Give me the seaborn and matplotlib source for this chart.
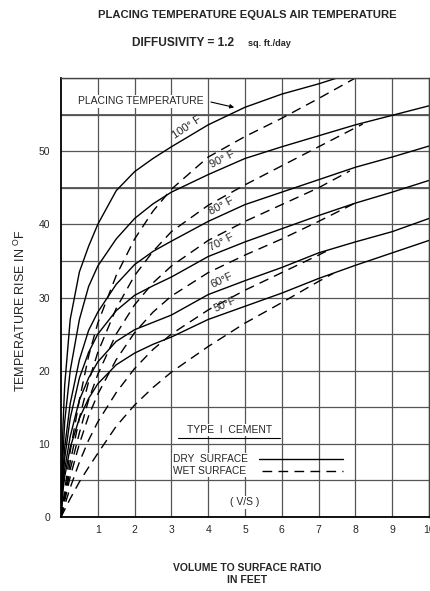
import matplotlib
matplotlib.use("agg")
import matplotlib.pyplot as plt
import seaborn as sns
import pandas

# readings: x = V/S in feet, y = temperature rise in deg F
dry_x = [0, 0.05, 0.1, 0.25, 0.5, 0.75, 1, 1.5, 2, 2.5, 3, 4, 5, 6, 7, 8, 9, 10]
dry_100_x = [0, 0.05, 0.1, 0.25, 0.5, 0.75, 1, 1.5, 2, 2.5, 3, 4, 5, 6, 7, 7.5]
dry_100 = [0, 12, 18, 27, 33.5, 37, 40, 44.6, 47.2, 49.0, 50.6, 53.6, 56.0, 57.8, 59.2, 60]
dry_90 = [0, 8, 13, 20, 27, 31.5, 34.3, 38, 40.8, 42.8, 44.4, 46.8, 49, 50.6, 52.1, 53.6, 54.9, 56.2]
dry_80 = [0, 6, 9.5, 15.5, 21.5, 25.5, 28, 31.8, 34.5, 36.3, 37.7, 40.4, 42.7, 44.4, 46.1, 47.8, 49.2, 50.7]
dry_70 = [0, 5, 8, 13.5, 19, 22.5, 25, 28.2, 30.3, 31.6, 32.8, 35.6, 37.6, 39.4, 41.2, 42.9, 44.4, 46.0]
dry_60 = [0, 4, 6.5, 11, 16, 19, 21.2, 24, 25.6, 26.6, 27.6, 30.4, 32.3, 34.1, 36.1, 37.6, 39.0, 40.8]
dry_50 = [0, 3.5, 5.5, 9.5, 13.5, 16.2, 18.2, 20.8, 22.4, 23.6, 24.6, 27, 28.8, 30.6, 32.6, 34.4, 36.1, 37.8]

wet_100_x = [0, 0.25, 0.5, 0.75, 1, 1.5, 2, 2.5, 3, 4, 5, 6, 7, 8]
wet_100 = [0, 9, 16, 22, 26.5, 33, 38, 41.8, 44.8, 49.2, 52, 54.5, 57.2, 60]
wet_90_x = [0, 0.25, 0.5, 0.75, 1, 1.5, 2, 2.5, 3, 4, 5, 6, 7, 8, 8.2]
wet_90 = [0, 7.5, 13.5, 18.5, 22.5, 28.5, 33, 36.3, 39, 42.6, 45.4, 48, 50.6, 53.2, 53.7]
wet_80_x = [0, 0.25, 0.5, 0.75, 1, 1.5, 2, 2.5, 3, 4, 5, 6, 7, 7.85]
wet_80 = [0, 6.5, 11.5, 16, 19.5, 25, 29, 32, 34.3, 37.8, 40.4, 42.7, 45, 47.3]
wet_70_x = [0, 0.25, 0.5, 0.75, 1, 1.5, 2, 2.5, 3, 4, 5, 6, 7, 7.95]
wet_70 = [0, 5.5, 10, 13.8, 16.8, 21.5, 25.2, 28, 30.2, 33.4, 35.8, 38, 40.4, 42.8]
wet_60_x = [0, 0.25, 0.5, 0.75, 1, 1.5, 2, 2.5, 3, 4, 5, 6, 7, 7.2]
wet_60 = [0, 4, 7.5, 10.5, 13, 17, 20.3, 22.9, 25, 28.3, 31, 33.4, 35.8, 36.3]
wet_50_x = [0, 0.25, 0.5, 0.75, 1, 1.5, 2, 2.5, 3, 4, 5, 6, 7, 7.4]
wet_50 = [0, 2.5, 4.8, 6.8, 8.7, 12.4, 15.3, 17.7, 19.8, 23.3, 26.5, 29.3, 32.2, 33.3]

temps = ["100", "90", "80", "70", "60", "50"]
curve_labels = ["100° F", "90° F", "80° F", "70° F", "60°F", "50°F"]
label_x = [3.42, 4.38, 4.35, 4.35, 4.38, 4.46]
label_y = [53.2, 48.9, 42.5, 37.6, 32.4, 29.1]
label_rot = [34, 27, 28, 27, 25, 24]

dry = {"100": (dry_100_x, dry_100), "90": (dry_x, dry_90), "80": (dry_x, dry_80),
       "70": (dry_x, dry_70), "60": (dry_x, dry_60), "50": (dry_x, dry_50)}
wet = {"100": (wet_100_x, wet_100), "90": (wet_90_x, wet_90), "80": (wet_80_x, wet_80),
       "70": (wet_70_x, wet_70), "60": (wet_60_x, wet_60), "50": (wet_50_x, wet_50)}

rows = []
for t in temps:
    for surface, src in (("dry", dry), ("wet", wet)):
        xs, ys = src[t]
        for a, b in zip(xs, ys):
            rows.append({"vs": a, "rise": b, "temp": t, "surface": surface})
df = pandas.DataFrame(rows)

sns.set_style("white")
plt.rcParams['font.family'] = ['Liberation Sans', 'DejaVu Sans']

fig = plt.figure(figsize=(4.30, 5.91), dpi=100)
ax = fig.add_axes([61 / 430, 1 - 517 / 591, 368 / 430, 439 / 591])

DASH = (0, (7, 4.5))
for t in temps:
    for surface in ("dry", "wet"):
        sub = df[(df["temp"] == t) & (df["surface"] == surface)]
        sns.lineplot(data=sub, x="vs", y="rise", ax=ax, color="black", lw=1.0,
                     estimator=None, sort=False, legend=False,
                     linestyle="-" if surface == "dry" else DASH)

ax.set_xlim(0, 10)
ax.set_ylim(0, 60)
ax.set_xticks(range(1, 11))
ax.set_yticks(range(0, 61, 5), minor=True)
ax.set_yticks(range(0, 51, 10))
ax.grid(True, which="both", color="#555555", lw=0.9)
# a couple of the printed rules come out heavier
for yy in (45, 55):
    ax.axhline(yy, color="#333333", lw=1.1, zorder=0.5)
ax.set_axisbelow(True)
ax.tick_params(length=0, labelsize=7.5)
ax.tick_params(axis="x", pad=6)
ax.tick_params(axis="y", pad=8)
ax.set_xlabel("")
ax.set_ylabel("")
for side in ("left", "bottom"):
    ax.spines[side].set_color("black")
    ax.spines[side].set_linewidth(1.3)
for side in ("top", "right"):
    ax.spines[side].set_color("#444444")
    ax.spines[side].set_linewidth(1.0)

for lab, lx, ly, lr in zip(curve_labels, label_x, label_y, label_rot):
    ax.text(lx, ly, lab, rotation=lr, rotation_mode="anchor", ha="center", va="center",
            fontsize=8)

ax.text(0.47, 56.8, "PLACING TEMPERATURE", fontsize=7.5, va="center", ha="left",
        bbox=dict(facecolor="white", edgecolor="none", pad=1.0))
ax.annotate("", xy=(4.78, 55.9), xytext=(4.0, 56.8),
            arrowprops=dict(arrowstyle="-|>", color="black", lw=0.8, mutation_scale=6))

white = dict(facecolor="white", edgecolor="none", pad=1.0)
ax.text(4.57, 11.9, "TYPE  I  CEMENT", fontsize=7.5, ha="center", va="center", bbox=white)
ax.plot([3.18, 5.95], [10.85, 10.85], color="black", lw=0.8, zorder=5)
ax.text(3.05, 7.9, "DRY  SURFACE", fontsize=7.3, ha="left", va="center", bbox=white)
ax.text(3.05, 6.3, "WET SURFACE", fontsize=7.3, ha="left", va="center", bbox=white)
ax.plot([5.38, 7.66], [7.9, 7.9], color="black", lw=1.0)
ax.plot([5.45, 7.66], [6.3, 6.3], color="black", lw=1.0, linestyle=DASH)
ax.text(5.0, 2.0, "( V/S )", fontsize=7.5, ha="center", va="center", bbox=white)

fig.text(247 / 430, 1 - 15 / 591, "PLACING TEMPERATURE EQUALS AIR TEMPERATURE",
         fontsize=8.1, fontweight="bold", ha="center", va="center")
fig.text(132 / 430, 1 - 43 / 591, "DIFFUSIVITY = 1.2", fontsize=8.6, fontweight="bold",
         ha="left", va="center")
fig.text(248 / 430, 1 - 44 / 591, "sq. ft./day", fontsize=6.6, fontweight="bold",
         ha="left", va="center")
fig.text(247 / 430, 1 - 574 / 591, "VOLUME TO SURFACE RATIO\nIN FEET", fontsize=7.5,
         fontweight="bold", ha="center", va="center", linespacing=1.3)
fig.text(20 / 430, 1 - 311 / 591, "TEMPERATURE RISE IN $^{\\mathregular{O}}$F", fontsize=9,
         rotation=90, ha="center", va="center")

fig.savefig("out.png", dpi=100)
